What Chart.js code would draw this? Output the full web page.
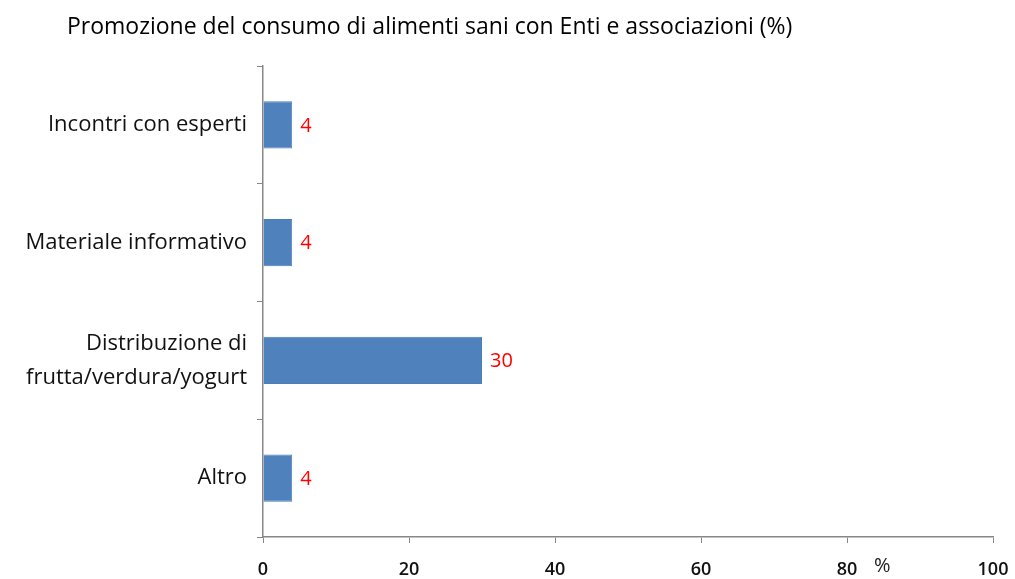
<!DOCTYPE html>
<html>
<head>
<meta charset="utf-8">
<script src="https://cdn.jsdelivr.net/npm/chart.js@4/dist/chart.umd.min.js"></script>
<style>
  html, body { margin: 0; padding: 0; background: #fff; }
  #wrap { width: 1015px; height: 579px; }
</style>
</head>
<body>
<div id="wrap"><canvas id="chart" width="1015" height="579"></canvas></div>
<script>
const titleText = "Promozione del consumo di alimenti sani con Enti e associazioni (%)";
const categories = [
    "Incontri con esperti",
    "Materiale informativo",
    ["Distribuzione di", "frutta/verdura/yogurt"],
    "Altro"
];
const values = [4, 4, 30, 4];
const xTicks = [0, 20, 40, 60, 80, 100];

const FONT = "'Open Sans', sans-serif";

// titolo, etichette rosse e simbolo %
const extras = {
    id: "extras",
    afterDraw(chart) {
        const ctx = chart.ctx;
        ctx.save();
        ctx.fillStyle = "#000";
        ctx.font = "23px " + FONT;
        ctx.textAlign = "left";
        ctx.textBaseline = "middle";
        ctx.fillText(titleText, 67, 27);

        const meta = chart.getDatasetMeta(0);
        ctx.fillStyle = "#ff0000";
        ctx.font = "20px " + FONT;
        meta.data.forEach((bar, i) => {
            ctx.fillText(values[i], bar.x + 8, bar.y + 1);
        });

        const xs = chart.scales.x;
        ctx.fillStyle = "#222";
        ctx.font = "20px " + FONT;
        ctx.fillText("%", xs.getPixelForValue(83.7), 566);
        ctx.restore();
    }
};

new Chart(document.getElementById("chart"), {
    type: "bar",
    data: {
        labels: categories,
        datasets: [{
            data: values,
            backgroundColor: "#4f81bd",
            borderColor: "#4a7ebb",
            borderWidth: 1,
            categoryPercentage: 1,
            barPercentage: 0.4
        }]
    },
    options: {
        indexAxis: "y",
        responsive: false,
        animation: false,
        layout: { padding: { top: 66, right: 0, left: 0, bottom: 0 } },
        plugins: { legend: { display: false }, tooltip: { enabled: false } },
        scales: {
            x: {
                min: 0,
                max: 100,
                afterBuildTicks(axis) { axis.ticks = xTicks.map(v => ({ value: v })); },
                afterFit(axis) { axis.height = 42; axis.paddingRight = 22; },
                grid: { drawOnChartArea: false, drawTicks: true, tickLength: 6, color: "#888" },
                border: { color: "#888", width: 1.5 },
                ticks: { color: "#111", padding: 16, font: { family: FONT, size: 18, weight: "600" } }
            },
            y: {
                offset: true,
                afterFit(axis) { axis.width = 263; },
                grid: { offset: true, drawOnChartArea: false, drawTicks: true, tickLength: 6, color: "#888" },
                border: { color: "#888", width: 1.5 },
                ticks: {
                    color: "#111",
                    padding: 10,
                    font: { family: FONT, size: 22, lineHeight: 1.55 }
                }
            }
        }
    },
    plugins: [extras]
});
</script>
</body>
</html>
